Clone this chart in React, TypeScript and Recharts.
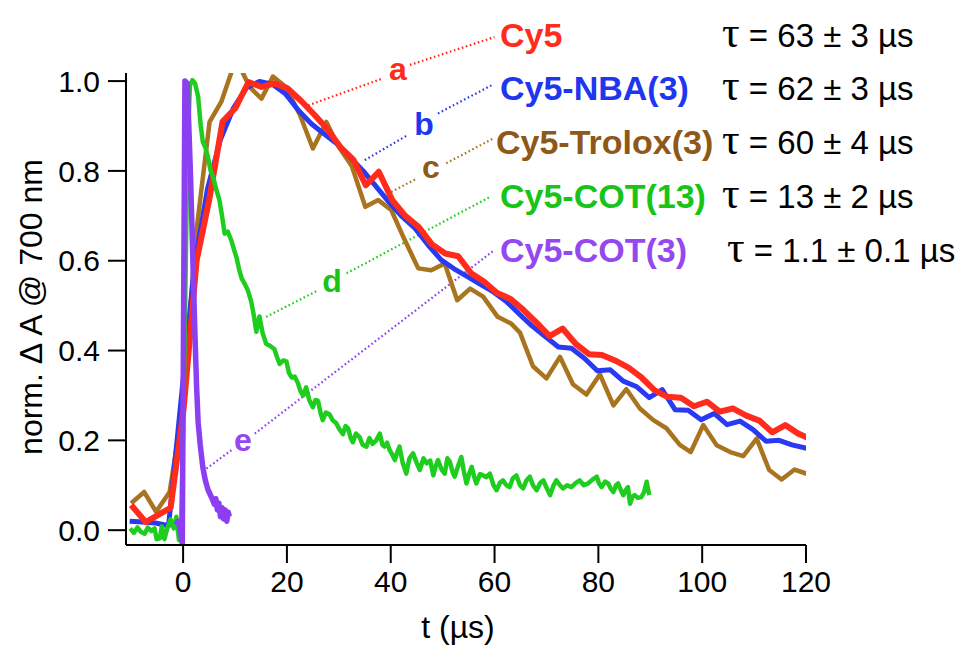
import { LineChart, Line, XAxis, YAxis, ReferenceLine } from 'recharts';

// transient absorption decays, t in µs vs normalised ΔA at 700 nm
const cy5: [number, number][] = [
  [-10, 0.056], [-7.2, 0.018], [-2.4, 0.05], [0.1, 0.27], [2.6, 0.6], [5.1, 0.74], [7.6, 0.91],
  [10.1, 0.94], [12.6, 0.998], [15.1, 0.987], [17.6, 0.995], [20.1, 0.984], [22.8, 0.955],
  [25.3, 0.925], [27.8, 0.893], [30.3, 0.853], [32.8, 0.825], [35.2, 0.768], [37.7, 0.798],
  [40.3, 0.735], [42.8, 0.7], [45.4, 0.675], [47.9, 0.637], [50.5, 0.616], [53, 0.61],
  [55.5, 0.572], [58, 0.553], [60.5, 0.528], [63.1, 0.515], [65.6, 0.49], [68.1, 0.462],
  [70.6, 0.432], [73.1, 0.449], [75.7, 0.414], [78.2, 0.392], [80.7, 0.39], [83.2, 0.378],
  [85.8, 0.362], [88.3, 0.34], [90.8, 0.312], [93.3, 0.297], [95.9, 0.295], [98.4, 0.276],
  [100.9, 0.286], [103.4, 0.264], [105.9, 0.271], [108.5, 0.255], [111, 0.244], [113.5, 0.218],
  [116, 0.234], [118.5, 0.215], [120.3, 0.206],
];

const cy5Nba: [number, number][] = [
  [-10.3, 0.02], [-7.8, 0.018], [-5.3, 0.016], [-2.8, 0.01], [-0.3, 0.3], [2.2, 0.59], [4.7, 0.76],
  [7.2, 0.87], [9.7, 0.94], [12.2, 0.985], [14.7, 0.999], [17.2, 0.993], [19.7, 0.972],
  [22.2, 0.935], [24.7, 0.905], [27.2, 0.882], [29.7, 0.86], [32.2, 0.83], [34.7, 0.8],
  [37.2, 0.765], [39.7, 0.73], [42.2, 0.698], [44.7, 0.672], [47.2, 0.635], [49.7, 0.602],
  [52.2, 0.582], [54.7, 0.565], [57.2, 0.548], [59.7, 0.531], [62.2, 0.51], [64.7, 0.482],
  [67.2, 0.455], [69.7, 0.432], [72.3, 0.408], [74.8, 0.405], [77.3, 0.383], [79.8, 0.355],
  [82.3, 0.357], [84.8, 0.332], [87.3, 0.32], [89.8, 0.295], [92.3, 0.313], [94.8, 0.268],
  [97.3, 0.267], [99.8, 0.246], [102.3, 0.26], [104.8, 0.235], [107.3, 0.243], [109.8, 0.224],
  [112.3, 0.198], [114.8, 0.2], [117.3, 0.19], [120.3, 0.182],
];

const cy5Trolox: [number, number][] = [
  [-10, 0.06], [-7.5, 0.085], [-5.2, 0.041], [-2.6, 0.085], [-0.1, 0.27], [2.5, 0.66], [5.1, 0.909],
  [7.4, 0.955], [10.2, 1.05], [12.8, 0.987], [15.1, 0.961], [17.3, 1.01], [19.8, 0.987],
  [22.5, 0.925], [25, 0.85], [27.6, 0.909], [29.9, 0.855], [32.5, 0.811], [35.1, 0.72],
  [37.6, 0.735], [40.1, 0.713], [42.7, 0.646], [45.3, 0.583], [47.8, 0.579], [50.4, 0.594],
  [52.8, 0.512], [55.3, 0.538], [57.8, 0.52], [60.6, 0.475], [63.2, 0.46], [64.9, 0.44],
  [67.4, 0.365], [70, 0.338], [72.6, 0.386], [75.1, 0.325], [77.7, 0.302], [80.3, 0.347],
  [82.9, 0.278], [85.4, 0.314], [88, 0.271], [90.6, 0.245], [93.1, 0.227], [95.7, 0.19],
  [97.8, 0.174], [100.2, 0.234], [102.8, 0.189], [105.4, 0.174], [107.9, 0.165], [110.5, 0.204],
  [112.9, 0.134], [115.3, 0.113], [117.8, 0.135], [120.3, 0.125],
];

const cy5Cot13: [number, number][] = [
  [-10.2, 0.004], [-9.5, -0.006], [-8.8, 0.006], [-8.1, -0.004], [-7.4, -0.008], [-6.8, 0.006],
  [-6.1, -0.002], [-5.5, 0.004], [-5.1, -0.02], [-4.5, -0.018], [-4.1, 0.008], [-3.6, -0.02],
  [-3.0, 0.006], [-2.4, 0.024], [-1.8, 0.004], [-1.3, 0.03], [-0.8, -0.022], [-0.4, -0.015],
  [0.2, 0.35], [0.8, 0.82], [1.3, 0.99], [1.8, 1.002], [2.3, 0.995], [2.9, 0.965], [3.4, 0.9],
  [3.8, 0.865], [4.3, 0.852], [4.8, 0.83], [5.3, 0.8], [5.8, 0.786], [6.4, 0.758], [7.0, 0.735],
  [7.5, 0.7], [8.0, 0.66], [8.6, 0.665], [9.3, 0.645], [9.8, 0.625], [10.3, 0.607], [10.8, 0.58],
  [11.3, 0.56], [11.9, 0.548], [12.5, 0.533], [13.1, 0.51], [13.6, 0.48], [14.1, 0.442],
  [14.7, 0.476], [15.3, 0.44], [16.0, 0.415], [16.8, 0.41], [17.6, 0.403], [18.1, 0.385],
  [18.6, 0.37], [19.3, 0.378], [19.9, 0.376], [20.4, 0.35], [20.9, 0.34], [21.5, 0.342],
  [22.1, 0.328], [22.6, 0.31], [23.1, 0.3], [23.7, 0.318], [24.3, 0.29], [25.0, 0.274],
  [25.5, 0.29], [26.0, 0.288], [26.5, 0.26], [26.9, 0.245], [27.5, 0.262], [28.2, 0.258],
  [28.8, 0.245], [29.5, 0.238], [30.1, 0.225], [30.8, 0.214], [31.3, 0.232], [31.8, 0.226],
  [32.3, 0.205], [32.7, 0.196], [33.3, 0.215], [34.0, 0.207], [34.6, 0.19], [35.3, 0.186],
  [35.9, 0.205], [36.5, 0.192], [37.2, 0.2], [37.9, 0.215], [38.4, 0.19], [38.8, 0.186],
  [39.3, 0.195], [39.8, 0.178], [40.3, 0.168], [40.8, 0.156], [41.3, 0.175], [41.7, 0.186],
  [42.3, 0.15], [43.0, 0.126], [43.6, 0.16], [44.3, 0.171], [45.0, 0.15], [45.6, 0.134],
  [46.3, 0.16], [46.9, 0.149], [47.6, 0.155], [48.2, 0.122], [48.6, 0.14], [49.1, 0.156],
  [49.8, 0.135], [50.4, 0.126], [50.9, 0.16], [51.4, 0.152], [51.9, 0.13], [52.3, 0.119],
  [52.9, 0.14], [53.6, 0.163], [54.1, 0.13], [54.6, 0.104], [55.1, 0.125], [55.6, 0.141],
  [56.1, 0.118], [56.5, 0.104], [57.2, 0.125], [57.8, 0.122], [58.4, 0.118], [59.1, 0.126],
  [59.8, 0.1], [60.4, 0.089], [61.0, 0.105], [61.6, 0.111], [62.3, 0.1], [62.9, 0.096],
  [63.5, 0.115], [64.2, 0.122], [64.9, 0.1], [65.5, 0.093], [66.1, 0.11], [66.8, 0.119],
  [67.4, 0.1], [68.1, 0.089], [68.8, 0.105], [69.4, 0.111], [70.0, 0.095], [70.7, 0.078],
  [71.3, 0.098], [71.9, 0.111], [72.6, 0.1], [73.2, 0.093], [74.0, 0.1], [74.8, 0.096],
  [75.6, 0.105], [76.4, 0.111], [77.2, 0.1], [78.0, 0.104], [78.8, 0.112], [79.7, 0.119],
  [80.1, 0.105], [80.6, 0.096], [81.3, 0.108], [81.9, 0.104], [82.4, 0.092], [82.9, 0.085],
  [83.4, 0.1], [83.8, 0.104], [84.3, 0.09], [84.8, 0.078], [85.3, 0.09], [85.7, 0.096],
  [86.1, 0.059], [86.6, 0.075], [87.0, 0.078], [87.6, 0.072], [88.3, 0.074], [88.8, 0.085],
  [89.3, 0.108], [89.8, 0.078],
];

const cy5Cot3: [number, number][] = [
  [-1.3, 0.012], [-1.0, 0.02], [-0.7, 0.008], [-0.4, -0.01], [-0.15, -0.03], [0.1, 0.5],
  [0.35, 1.0], [0.8, 0.995], [1.1, 0.9], [1.4, 0.8], [1.7, 0.68], [2.0, 0.55], [2.3, 0.43],
  [2.6, 0.32], [2.9, 0.24], [3.3, 0.19], [3.8, 0.14], [4.3, 0.11], [4.8, 0.09], [5.2, 0.08],
  [5.6, 0.07], [6.0, 0.058], [6.3, 0.07], [6.6, 0.045], [6.9, 0.06], [7.2, 0.03], [7.5, 0.05],
  [7.8, 0.025], [8.1, 0.045], [8.4, 0.02], [8.7, 0.04], [8.9, 0.03],
];

const xTicks = [0, 20, 40, 60, 80, 100, 120];
const yTicks = [0, 0.2, 0.4, 0.6, 0.8, 1.0];

const names = ['Cy5', 'Cy5-NBA(3)', 'Cy5-Trolox(3)', 'Cy5-COT(13)', 'Cy5-COT(3)'];
const lifetimes = ['63 ± 3', '62 ± 3', '60 ± 4', '13 ± 2', '1.1 ± 0.1'];
const letters = ['a', 'b', 'c', 'd', 'e'];

// leader lines from each curve to its name, in data units (two dotted pieces around the letter)
const leaders: [number, number, number, number][][] = [
  [[24.1, 0.946, 38.5, 1.006], [43.7, 1.036, 60.0, 1.098]],
  [[35.0, 0.824, 43.3, 0.88], [49.1, 0.928, 59.5, 0.991]],
  [[40.1, 0.753, 45.0, 0.783], [50.7, 0.817, 59.7, 0.872]],
  [[16.0, 0.475, 26.0, 0.534], [31.5, 0.572, 59.1, 0.742]],
  [[4.5, 0.137, 9.3, 0.178], [13.8, 0.215, 60.0, 0.624]],
];

const lineColors = ['#ff2b1c', '#2a3af2', '#a8741f', '#1fcd1f', '#8b3ff0'];
const textColors = ['#ff2b1c', '#1f36f0', '#8e5818', '#17c417', '#9548ef'];
const widths = [6, 5, 4.5, 4.5, 5.5];
const series = [cy5, cy5Nba, cy5Trolox, cy5Cot13, cy5Cot3];
const drawOrder = [2, 1, 0, 3, 4];

const sans = '"Liberation Sans", Arial, Helvetica, sans-serif';
const rowBase = [47, 100, 154, 208, 262];
const letterPos = [[398, 80], [424, 135], [431, 178], [332, 292], [243, 451]];

const toPoints = (s: [number, number][]) => s.map(([t, v]) => ({ t, v }));

export default function App() {
  const axisStyle = { stroke: '#000', strokeWidth: 2 };
  return (
    <div style={{ position: 'absolute', left: 0, top: 0, width: 960, height: 648, background: '#fff' }}>
      <LineChart width={960} height={648} margin={{ top: 73, right: 154, bottom: 0, left: 0 }}>
        <XAxis
          type="number"
          dataKey="t"
          domain={[-11, 120]}
          allowDataOverflow
          ticks={xTicks}
          height={103}
          tickSize={18}
          tickMargin={8}
          axisLine={axisStyle}
          tickLine={axisStyle}
          tick={{ fill: '#000', fontSize: 30, fontFamily: sans }}
        />
        <YAxis
          type="number"
          dataKey="v"
          domain={[-0.033, 1.018]}
          allowDataOverflow
          ticks={yTicks}
          tickFormatter={(v: number) => v.toFixed(1)}
          width={126}
          tickSize={18}
          tickMargin={8}
          axisLine={axisStyle}
          tickLine={axisStyle}
          tick={{ fill: '#000', fontSize: 30, fontFamily: sans }}
        />
        {leaders.map((pieces, i) =>
          pieces.map((p, j) => (
            <ReferenceLine
              key={`l${i}-${j}`}
              segment={[{ x: p[0], y: p[1] }, { x: p[2], y: p[3] }]}
              stroke={lineColors[i]}
              strokeWidth={2.2}
              strokeDasharray="1.6 2.6"
              ifOverflow="visible"
            />
          ))
        )}
        {drawOrder.map((i) => (
          <Line
            key={names[i]}
            data={toPoints(series[i])}
            dataKey="v"
            type="linear"
            stroke={lineColors[i]}
            strokeWidth={widths[i]}
            strokeLinejoin="round"
            dot={false}
            activeDot={false}
            isAnimationActive={false}
          />
        ))}
      </LineChart>

      <svg width={960} height={648} style={{ position: 'absolute', left: 0, top: 0, pointerEvents: 'none' }}>
        <text x={458} y={638} textAnchor="middle" fontSize={32} fontFamily={sans} fill="#000">
          t (µs)
        </text>
        <text transform="translate(42,307) rotate(-90)" textAnchor="middle" fontSize={32} fontFamily={sans} fill="#000">
          norm. Δ A @ 700 nm
        </text>
        {names.map((n, i) => (
          <g key={n}>
            <text x={i === 2 ? 496 : 500} y={rowBase[i]} fontSize={34} fontWeight="bold" fontFamily={sans} fill={textColors[i]}>
              {n}
            </text>
            <text x={i === 4 ? 727 : 722} y={rowBase[i]} fontSize={33} fontFamily={sans} fill="#000">
              <tspan fontFamily='"Liberation Serif", "Times New Roman", serif' fontSize={44}>τ</tspan>
              {` = ${lifetimes[i]} µs`}
            </text>
            <text x={letterPos[i][0]} y={letterPos[i][1]} textAnchor="middle" fontSize={32} fontWeight="bold" fontFamily={sans} fill={textColors[i]}>
              {letters[i]}
            </text>
          </g>
        ))}
      </svg>
    </div>
  );
}
